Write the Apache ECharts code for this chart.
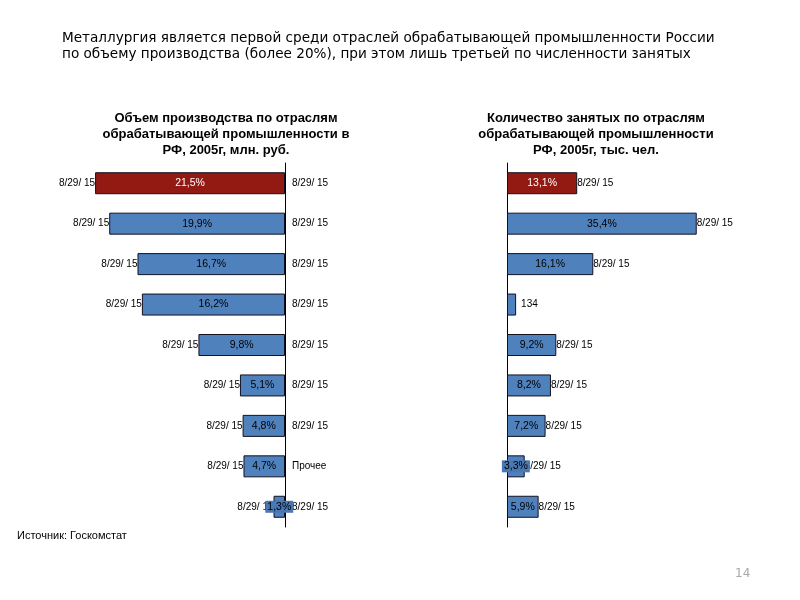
<!DOCTYPE html>
<html>
<head>
<meta charset="utf-8">
<script src="https://cdn.jsdelivr.net/npm/echarts@6/dist/echarts.min.js"></script>
<style>html,body{margin:0;padding:0;background:#fff}#c{width:800px;height:600px}</style>
</head>
<body>
<div id="c"></div>
<script>
// ---- data ----
var axisCategories = ['8/29/ 15','8/29/ 15','8/29/ 15','8/29/ 15','8/29/ 15','8/29/ 15','8/29/ 15','Прочее','8/29/ 15'];
var volumeShare = [21.5, 19.9, 16.7, 16.2, 9.8, 5.1, 4.8, 4.7, 1.3];
var volumeLabels = ['21,5%','19,9%','16,7%','16,2%','9,8%','5,1%','4,8%','4,7%','1,3%'];
var volumeOuterLabels = ['8/29/ 15','8/29/ 15','8/29/ 15','8/29/ 15','8/29/ 15','8/29/ 15','8/29/ 15','8/29/ 15','8/29/ 15'];
var employShare = [13.1, 35.4, 16.1, 1.7, 9.2, 8.2, 7.2, 3.3, 5.9];
var employLabels = ['13,1%','35,4%','16,1%','','9,2%','8,2%','7,2%','3,3%','5,9%'];
var employOuterLabels = ['8/29/ 15','8/29/ 15','8/29/ 15','134','8/29/ 15','8/29/ 15','8/29/ 15','8/29/ 15','8/29/ 15'];
var highlightIndex = 0;

var mainTitle = 'Металлургия является первой среди отраслей обрабатывающей промышленности России\nпо объему производства (более 20%), при этом лишь третьей по численности занятых';
var leftTitle = 'Объем производства по отраслям\nобрабатывающей промышленности в\nРФ, 2005г, млн. руб.';
var rightTitle = 'Количество занятых по отраслям\nобрабатывающей промышленности\nРФ, 2005г, тыс. чел.';
var sourceText = 'Источник: Госкомстат';
var pageNumber = '14';

// ---- style ----
var BLUE = '#4F81BD', RED = '#921A13', BORDER = '#111122', LBLBG = '#4a78b2';
var FONT = 'Liberation Sans, Arial, sans-serif';

function mainBars(values, labels, smallIdx) {
  return values.map(function (v, i) {
    var d = {
      value: v,
      itemStyle: { color: i === highlightIndex ? RED : BLUE },
      label: { formatter: labels[i], color: i === highlightIndex ? '#fff' : '#000' }
    };
    if (smallIdx.indexOf(i) >= 0) {
      d.label.backgroundColor = LBLBG;
      d.label.padding = [1, 2, 0, 2];
    }
    return d;
  });
}
function outerBars(values, labels) {
  return values.map(function (v, i) {
    var isDate = labels[i].indexOf('/') >= 0;
    return { value: v, label: { formatter: labels[i], distance: isDate ? 0 : 5 } };
  });
}

var chart = echarts.init(document.getElementById('c'), null, { renderer: 'canvas' });
var gridTop = 163, gridH = 364;
var option = {
  backgroundColor: '#fff',
  animation: false,
  title: [
    { text: mainTitle, left: 62, top: 30, padding: 0, textStyle: { fontFamily: 'DejaVu Sans, sans-serif', fontSize: 13.6, fontWeight: 'normal', color: '#000', lineHeight: 16 } },
    { text: leftTitle, left: 226, top: 110, padding: 0, textAlign: 'center', textStyle: { fontFamily: FONT, fontSize: 13, fontWeight: 'bold', color: '#000', lineHeight: 16, align: 'center' } },
    { text: rightTitle, left: 596, top: 110, padding: 0, textAlign: 'center', textStyle: { fontFamily: FONT, fontSize: 13, fontWeight: 'bold', color: '#000', lineHeight: 16, align: 'center' } },
    { text: sourceText, left: 17, top: 530, padding: 0, textStyle: { fontFamily: FONT, fontSize: 11, fontWeight: 'normal', color: '#000' } },
    { text: pageNumber, left: 735, top: 568, padding: 0, textStyle: { fontFamily: 'DejaVu Sans, sans-serif', fontSize: 12, fontWeight: 'normal', color: '#a8a8a8' } }
  ],
  grid: [
    { left: 20, top: gridTop, width: 265, height: gridH },
    { left: 507, top: gridTop, width: 214.4, height: gridH }
  ],
  xAxis: [
    { gridIndex: 0, type: 'value', min: 0, max: 30, inverse: true, show: false },
    { gridIndex: 1, type: 'value', min: 0, max: 40, show: false }
  ],
  yAxis: [
    { gridIndex: 0, type: 'category', data: axisCategories, inverse: true, position: 'right',
      axisLine: { show: true, lineStyle: { color: '#000', width: 1 } }, axisTick: { show: false },
      axisLabel: { color: '#000', fontFamily: FONT, fontSize: 10, margin: 7, align: 'left' }, splitLine: { show: false } },
    { gridIndex: 1, type: 'category', data: axisCategories, inverse: true, position: 'left',
      axisLine: { show: true, lineStyle: { color: '#000', width: 1 } }, axisTick: { show: false },
      axisLabel: { show: false }, splitLine: { show: false } }
  ],
  series: [
    { type: 'bar', xAxisIndex: 0, yAxisIndex: 0, barWidth: 22, z: 3,
      data: mainBars(volumeShare, volumeLabels, [8]),
      itemStyle: { borderColor: BORDER, borderWidth: 1 },
      label: { show: true, position: 'inside', fontFamily: FONT, fontSize: 10.5 } },
    { type: 'bar', xAxisIndex: 0, yAxisIndex: 0, barWidth: 22, barGap: '-100%', z: 2,
      data: outerBars(volumeShare, volumeOuterLabels),
      itemStyle: { color: 'rgba(0,0,0,0)' },
      label: { show: true, position: 'left', distance: 1, color: '#000', fontFamily: FONT, fontSize: 10 } },
    { type: 'bar', xAxisIndex: 1, yAxisIndex: 1, barWidth: 22, z: 3,
      data: mainBars(employShare, employLabels, [7]),
      itemStyle: { borderColor: BORDER, borderWidth: 1 },
      label: { show: true, position: 'inside', fontFamily: FONT, fontSize: 10.5 } },
    { type: 'bar', xAxisIndex: 1, yAxisIndex: 1, barWidth: 22, barGap: '-100%', z: 2,
      data: outerBars(employShare, employOuterLabels),
      itemStyle: { color: 'rgba(0,0,0,0)' },
      label: { show: true, position: 'right', color: '#000', fontFamily: FONT, fontSize: 10 } }
  ]
};
chart.setOption(option);
</script>
</body>
</html>
